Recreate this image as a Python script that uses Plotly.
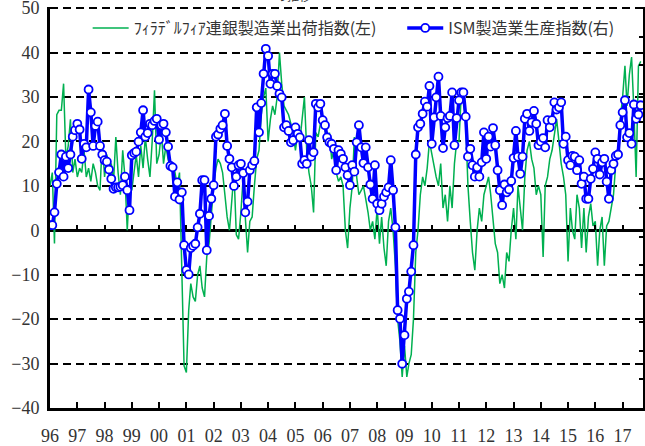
import pandas as pd
import plotly.graph_objects as go

# ISM manufacturing production index (right axis), monthly Jan-1996 .. Sep-2017
ism = [
    45.6, 45.6, 47.4, 51.4, 53.0, 55.5, 52.4, 55.2, 53.6, 55.5, 58.0, 58.9,  # 1996
    59.8, 59.0, 54.9, 57.0, 56.5, 64.6, 61.4, 56.7, 59.5, 60.1, 56.7, 55.5,  # 1997
    54.7, 54.5, 53.4, 52.1, 50.7, 50.9, 50.9, 51.0, 51.2, 52.4, 50.5, 47.7,  # 1998
    55.4, 55.7, 55.9, 57.3, 58.6, 61.7, 58.0, 58.5, 59.8, 59.6, 60.2, 60.5,  # 1999
    57.6, 59.6, 59.8, 58.6, 56.6, 53.9, 53.7, 49.6, 51.6, 49.2, 50.2, 42.8,  # 2000
    39.3, 38.7, 42.4, 42.7, 43.0, 45.3, 47.2, 51.9, 51.9, 42.1, 46.9, 49.3,  # 2001
    51.2, 58.0, 58.3, 59.1, 59.6, 61.2, 56.7, 54.9, 53.7, 51.1, 52.4, 54.0,  # 2002
    54.2, 52.9, 47.4, 48.9, 53.3, 54.0, 54.6, 62.1, 58.6, 62.7, 66.8, 70.3,  # 2003
    69.3, 65.4, 66.8, 66.8, 65.1, 64.0, 63.5, 59.3, 59.6, 58.8, 57.2, 57.5,  # 2004
    59.3, 58.4, 57.9, 54.2, 54.7, 54.2, 57.5, 55.2, 55.8, 62.6, 62.1, 62.6,  # 2005
    60.3, 59.6, 57.9, 57.2, 57.0, 56.3, 53.3, 56.1, 55.6, 54.9, 53.7, 52.6,  # 2006
    51.2, 54.0, 53.1, 57.2, 59.6, 56.5, 54.3, 56.5, 53.7, 51.3, 49.3, 54.0,  # 2007
    48.6, 47.7, 48.6, 49.6, 50.2, 50.9, 54.7, 50.5, 45.3, 33.7, 32.5, 26.2,  # 2008
    30.2, 35.3, 36.3, 39.1, 42.8, 55.5, 59.3, 59.8, 61.2, 62.9, 62.2, 65.1,  # 2009
    57.0, 60.7, 63.5, 66.4, 60.9, 56.4, 59.3, 60.6, 60.9, 64.2, 56.8, 60.6,  # 2010
    63.1, 64.2, 64.2, 60.8, 55.2, 56.3, 54.0, 52.4, 53.7, 52.4, 54.4, 58.6,  # 2011
    54.9, 58.0, 56.6, 59.2, 56.8, 53.3, 50.5, 48.4, 51.3, 50.2, 50.6, 51.8,  # 2012
    55.0, 58.8, 55.2, 52.8, 55.2, 60.5, 61.2, 58.8, 60.0, 61.6, 59.8, 56.8,  # 2013
    57.3, 57.8, 56.5, 60.3, 59.3, 60.3, 62.8, 61.8, 62.1, 62.8, 57.0, 58.0,  # 2014
    54.7, 54.0, 55.3, 55.2, 53.3, 54.7, 51.4, 52.4, 49.3, 49.3, 52.1, 53.5,  # 2015
    55.8, 54.9, 52.7, 54.4, 54.9, 51.7, 49.3, 53.3, 54.2, 55.3, 55.5, 59.6,  # 2016
    61.4, 63.1, 57.9, 58.5, 57.0, 62.5, 60.5, 61.1, 62.4,                    # 2017
]

# Philadelphia Fed manufacturing shipments index (left axis)
philly = [
    10, 13, -3, 26, 27, 27, 33, 16, 19, 25, 13, 16,        # 1996
    12, 14, 13, 18, 12, 14, 11, 15, 13, 10, 9, 20,         # 1997
    12, 17, 14, 15, 11, 21, 13, 8, 18, 12, 0, 10,          # 1998
    9, 13, 17, 12, 19, 14, 21, 16, 12, 20, 31.5, 15,       # 1999
    17, 22, 15, 19, 16, 14, 15, 13, 10, 13, -8, -30.5,     # 2000
    -32, -18, -12, -15, -16, -10, -8, -13, -15, -6, -3, 3,  # 2001
    10, 14, 16, 15, 13, 8, 3, 0, 6, 13, -1, -2,            # 2002
    4, 12, 3, -5, 2, 3, 10, 16, 18, 26, 30, 32,            # 2003
    20, 25, 28, 26, 30, 40, 33, 28, 27, 26, 24, 22,        # 2004
    18, 22, 20, 26, 30, 18, 13, 10, 4, 22, 21, 24,         # 2005
    25, 23, 19, 22, 16, 18, 13, 11, 12, 10, 0, -4,         # 2006
    5, 10, 21, 12, 8, 9, 10, 7, 4, 0, 2, -2,               # 2007
    5, -3, 3, -4, -8, 2, 5, 0, -8, -20, -25, -33,          # 2008
    -26, -33, -30, -28, -20, -5, 0, 8, 12, 10, 14, 20,     # 2009
    17, 14, 12, 10, 15, 5, 8, 2, 10, 5, 15, 20,            # 2010
    20, 31, 30, 24, 10, 2, -5, -9, 0, 5, 2, 8,             # 2011
    10, 12, 8, 2, -3, -5, -12, -10, -13, -5, -7, 0,        # 2012
    5, -2, 10, 5, 0, 12, 18, 20, 16, 14, 8, 10,            # 2013
    8, -6, 10, 12, 16, 18, 22, 25, 20, 15, 12, 8,          # 2014
    -7, 5, 0, -2, 8, 5, -4, 5, -5, 3, 6, 1,                # 2015
    2, -8, 0, 3, -8, 1, 2, 5, 8, 15, 18, 25,               # 2016
    30, 37, 28, 35, 39, 27, 12, 37, 38,                    # 2017
]

years = list(range(1996, 2018))
year_labels = [f"{y % 100:02d}" for y in years]

dates = pd.date_range("1996-01-01", periods=len(ism), freq="MS")
tick_dates = [pd.Timestamp(f"{y}-01-01") for y in years]
x_range = ["1996-01-01", "2017-10-01"]
left_range = [-40, 50.25]
right_range = [20, 76.156]

num_font = dict(family="Liberation Serif", size=18, color="#333333")
jp_font = dict(family="Noto Sans CJK JP", size=16, color="#333333")

fig = go.Figure()
fig.add_trace(go.Scatter(
    x=dates, y=philly, mode="lines", name="ﾌｨﾗﾃﾞﾙﾌｨｱ連銀製造業出荷指数(左)",
    line=dict(color="#00B050", width=1.5), yaxis="y", legend="legend",
))
fig.add_trace(go.Scatter(
    x=dates, y=ism, mode="lines+markers", name="ISM製造業生産指数(右)",
    line=dict(color="#0000FF", width=3.5),
    marker=dict(symbol="circle", size=8, color="white",
                line=dict(color="#0000FF", width=1.8)),
    yaxis="y2", legend="legend2",
))
# carrier for the tick row on the zero line
fig.add_trace(go.Scatter(x=[dates[0], dates[-1]], y=[None, None], xaxis="x2",
                         yaxis="y", showlegend=False, hoverinfo="skip"))

legend_common = dict(orientation="h", y=0.9475, xanchor="left", yanchor="middle",
                     font=jp_font, bgcolor="rgba(0,0,0,0)", itemwidth=36)

fig.update_layout(
    width=645, height=446,
    margin=dict(l=50, r=2, t=7, b=38, autoexpand=False),
    paper_bgcolor="white", plot_bgcolor="white",
    showlegend=True,
    legend=dict(x=0.0635, **legend_common),
    legend2=dict(x=0.594, **legend_common),
    xaxis=dict(
        type="date", range=x_range, tickvals=tick_dates, ticktext=year_labels,
        ticks="inside", ticklen=6, tickwidth=1.5, tickcolor="black",
        showline=True, linewidth=3, linecolor="black", automargin=False,
        showgrid=False, zeroline=False, tickfont=num_font,
        ticklabelstandoff=9, tickangle=0, ticklabeloverflow="allow",
    ),
    xaxis2=dict(
        type="date", range=x_range, overlaying="x", anchor="free",
        position=40 / 90.25, side="bottom", tickvals=tick_dates, automargin=False,
        ticks="inside", ticklen=5, tickwidth=1.5, tickcolor="black",
        showticklabels=False, showline=False, showgrid=False, zeroline=False,
    ),
    yaxis=dict(
        range=left_range, tickvals=list(range(-40, 51, 10)), automargin=False,
        showline=True, linewidth=3, linecolor="black",
        showgrid=True, gridcolor="black", gridwidth=2, griddash="8px,5px",
        zeroline=True, zerolinecolor="black", zerolinewidth=3,
        ticks="", tickfont=num_font, ticklabelstandoff=4, ticklabeloverflow="allow",
    ),
    yaxis2=dict(
        range=right_range, tickvals=list(range(20, 77, 4)), overlaying="y", side="right",
        showline=True, linewidth=2, linecolor="black", automargin=False,
        ticks="inside", ticklen=4, tickwidth=1.5, tickcolor="black",
        showticklabels=False, showgrid=False, zeroline=False,
    ),
    annotations=[dict(text="の推移", xref="paper", yref="paper", x=0.41, y=1.028,
                      xanchor="center", yanchor="middle", showarrow=False,
                      font=dict(family="Noto Sans CJK JP", size=12, color="#333333"))],
)

fig.write_html(
    "out.html",
    config={"displayModeBar": False},
    post_script="document.body.style.margin='0';document.body.style.overflow='hidden';",
)
